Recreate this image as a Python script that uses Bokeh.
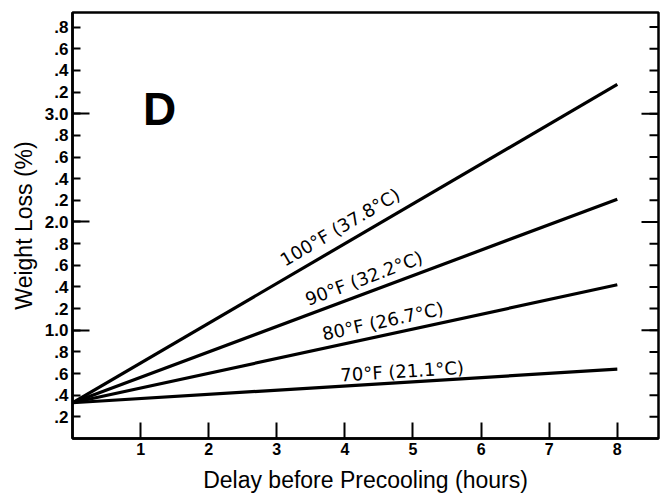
import math
from bokeh.plotting import figure
from bokeh.models import Range1d, FixedTicker
from bokeh.core.properties import value
from bokeh.embed import file_html
from bokeh.resources import INLINE

# ---- data ----
hours = [0, 8]
series_names = ["100°F (37.8°C)", "90°F (32.2°C)", "80°F (26.7°C)", "70°F (21.1°C)"]
loss_100F = [0.33, 3.27]
loss_90F = [0.33, 2.21]
loss_80F = [0.33, 1.42]
loss_70F = [0.33, 0.64]
label_hours = [3.12, 3.46, 3.69, 3.94]

x_ticks = [1, 2, 3, 4, 5, 6, 7, 8]
x_tick_labels = ["1", "2", "3", "4", "5", "6", "7", "8"]
y_ticks = [0.2, 0.4, 0.6, 0.8, 1.0, 1.2, 1.4, 1.6, 1.8, 2.0,
           2.2, 2.4, 2.6, 2.8, 3.0, 3.2, 3.4, 3.6, 3.8]
y_tick_labels = [".2", ".4", ".6", ".8", "1.0", ".2", ".4", ".6", ".8", "2.0",
                 ".2", ".4", ".6", ".8", "3.0", ".2", ".4", ".6", ".8"]
y_whole_ticks = [1.0, 2.0, 3.0]

# ---- layout ----
X_MAX, Y_MAX = 8.605, 3.935
W, H = 663, 495
BL, BR, BT, BB = 72, 5, 12, 55
FW, FH = W - BL - BR, H - BT - BB
PX_X, PX_Y = FW / X_MAX, FH / Y_MAX

p = figure(width=W, height=H, output_backend="svg", toolbar_location=None,
           x_range=Range1d(0, X_MAX), y_range=Range1d(0, Y_MAX),
           min_border_left=BL, min_border_right=BR, min_border_top=BT,
           min_border_bottom=BB)
p.grid.visible = False
p.outline_line_color = "black"
p.outline_line_width = 2.5
p.background_fill_color = "white"
p.border_fill_color = "white"

# x axis
xa = p.xaxis[0]
xa.ticker = FixedTicker(ticks=x_ticks)
xa.major_label_overrides = dict(zip(x_ticks, x_tick_labels))
xa.axis_label = "Delay before Precooling (hours)"

# y axis (left)
ya = p.yaxis[0]
ya.ticker = FixedTicker(ticks=y_ticks, minor_ticks=y_whole_ticks)
ya.major_label_overrides = dict(zip(y_ticks, y_tick_labels))
ya.axis_label = "Weight Loss (%)"

for ax in (xa, ya):
    ax.axis_line_width = 2.5
    ax.axis_line_color = "black"
    ax.major_tick_out = 0
    ax.minor_tick_out = 0
    ax.major_tick_line_width = 2
    ax.minor_tick_line_width = 2
    ax.major_tick_line_color = "black"
    ax.minor_tick_line_color = "black"
    ax.major_label_text_font = "Liberation Sans"
    ax.major_label_text_font_style = "bold"
    ax.major_label_text_color = "black"
    ax.axis_label_text_font = "Liberation Sans"
    ax.axis_label_text_font_style = "normal"
    ax.axis_label_text_font_size = "23px"
    ax.axis_label_text_color = "black"

xa.major_tick_in = 16
xa.minor_tick_in = 0
xa.major_label_text_font_size = "16px"
xa.major_label_standoff = 4
xa.axis_label_standoff = 9

ya.major_tick_in = 8
ya.minor_tick_in = 17
ya.major_label_text_font_size = "17px"
ya.major_label_standoff = 4
ya.axis_label_standoff = 5

# inward ticks along the right edge (same tick values as the left axis)
short_len, long_len = 9, 17
p.segment(x0=[X_MAX] * len(y_ticks), y0=y_ticks,
          x1=[X_MAX - short_len / PX_X] * len(y_ticks), y1=y_ticks,
          line_color="black", line_width=2)
p.segment(x0=[X_MAX] * len(y_whole_ticks), y0=y_whole_ticks,
          x1=[X_MAX - long_len / PX_X] * len(y_whole_ticks), y1=y_whole_ticks,
          line_color="black", line_width=2)

# lines + rotated labels (anchored at the left-middle of each label)
LABEL_PX = 18
MID_PX = 0.35 * LABEL_PX          # baseline -> middle of text
series = [loss_100F, loss_90F, loss_80F, loss_70F]
baseline_gap_px = [12, 9, 8, 5]   # vertical gap from line to label baseline
for name, ys, lx, gap in zip(series_names, series, label_hours, baseline_gap_px):
    p.line(hours, ys, line_color="black", line_width=3.2)
    slope = (ys[1] - ys[0]) / (hours[1] - hours[0])
    ang = math.atan(slope * PX_Y / PX_X)
    base_y = ys[0] + slope * (lx - hours[0]) + gap / PX_Y
    ax_ = lx - MID_PX * math.sin(ang) / PX_X
    ay_ = base_y + MID_PX * math.cos(ang) / PX_Y
    p.text(x=[ax_], y=[ay_], text=[name], angle=ang,
           text_align="left", text_baseline="middle",
           text_font=value("DejaVu Sans"), text_font_size=f"{LABEL_PX}px",
           text_color="black")

# panel letter
p.text(x=[1.28], y=[3.04], text=["D"], text_align="center",
       text_baseline="middle", text_font=value("Liberation Sans"),
       text_font_style="bold", text_font_size="46px", text_color="black")

open("out.html", "w").write(file_html(p, INLINE))
